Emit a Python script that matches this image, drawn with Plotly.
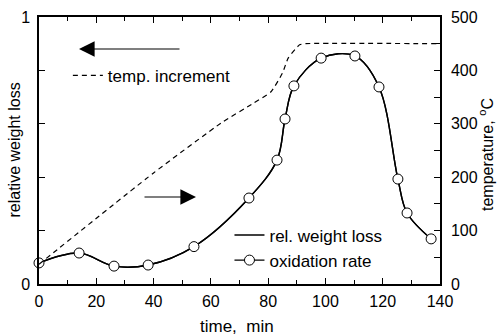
import plotly.graph_objects as go

# ---- data ----
time_ox = [0, 14, 26.2, 38.1, 54.1, 73.3, 83.1, 85.9, 89.0, 98.5, 110.3, 118.7, 125.3, 128.5, 136.9]
rate_ox = [0.079, 0.116, 0.067, 0.071, 0.140, 0.322, 0.464, 0.618, 0.742, 0.846, 0.854, 0.738, 0.393, 0.266, 0.169]

time_T = [0, 40, 64, 75, 81, 85, 87, 91, 93, 140]
temp_T = [37, 208, 303, 339, 360, 395, 423, 448, 450, 450]

x_ticks = [0, 20, 40, 60, 80, 100, 120, 140]
y_left_ticks = [0, 0.2, 0.4, 0.6, 0.8, 1.0]
y_left_text = ["0", "", "", "", "", "1"]

FONT = "Liberation Sans, Arial, sans-serif"
FS = 16
FL = 17

fig = go.Figure()

fig.add_trace(go.Scatter(
    x=time_T, y=temp_T, yaxis="y2", mode="lines", name="temp. increment",
    line=dict(color="black", width=1.2, dash="5px,4px", shape="spline", smoothing=0.5),
    legend="legend",
))
fig.add_trace(go.Scatter(
    x=time_ox, y=rate_ox, mode="lines", name="rel. weight loss",
    line=dict(color="black", width=1.4, shape="spline", smoothing=1.0),
    legend="legend2", cliponaxis=False,
))
fig.add_trace(go.Scatter(
    x=time_ox, y=rate_ox, mode="lines+markers", name="oxidation rate",
    line=dict(color="black", width=1.4, shape="spline", smoothing=1.0),
    marker=dict(symbol="circle", size=10, color="white", line=dict(color="black", width=1)),
    legend="legend2", cliponaxis=False,
))

axis_common = dict(showline=True, linecolor="black", linewidth=1.5, showgrid=False,
                   zeroline=False, ticks="inside", tickcolor="black", tickwidth=1.2,
                   tickfont=dict(family=FONT, size=FS, color="black"))

fig.update_layout(
    width=497, height=336,
    margin=dict(l=39, r=57, t=17, b=52, autoexpand=False),
    paper_bgcolor="white", plot_bgcolor="white",
    font=dict(family=FONT, size=FS, color="black"),
    xaxis=dict(range=[0, 140], tickvals=x_ticks, ticklen=6, mirror="ticks",
               minor=dict(dtick=10, ticks="inside", ticklen=4, tickcolor="black"),
               ticklabelstandoff=2, **axis_common),
    yaxis=dict(range=[0, 1], tickvals=y_left_ticks, ticktext=y_left_text, ticklen=6,
               mirror=True, ticklabelstandoff=4, **axis_common),
    yaxis2=dict(range=[0, 500], overlaying="y", side="right", dtick=100, ticklen=6,
                minor=dict(dtick=50, ticks="inside", ticklen=6, tickcolor="black"),
                ticklabelstandoff=6, **axis_common),
    legend=dict(x=0.072, y=0.78, xanchor="left", yanchor="middle", bgcolor="rgba(0,0,0,0)",
                font=dict(family=FONT, size=FL), itemwidth=30, tracegroupgap=0),
    legend2=dict(x=0.475, y=0.135, xanchor="left", yanchor="middle", bgcolor="rgba(0,0,0,0)",
                 font=dict(family=FONT, size=FL), itemwidth=30, tracegroupgap=0),
    showlegend=True,
)

fig.add_annotation(text="relative weight loss", xref="paper", yref="paper",
                   x=(14 - 39) / 401, y=0.5, textangle=-90, showarrow=False,
                   xanchor="center", yanchor="middle", font=dict(family=FONT, size=FS))
fig.add_annotation(text="temperature, <sup>o</sup>C", xref="paper", yref="paper",
                   x=(486 - 39) / 401, y=(284 - 155) / 267, textangle=-90, showarrow=False,
                   xanchor="center", yanchor="middle", font=dict(family=FONT, size=FS))
fig.add_annotation(text="time,  min", xref="paper", yref="paper",
                   x=0.495, y=(284 - 326) / 267, showarrow=False,
                   xanchor="center", yanchor="middle", font=dict(family=FONT, size=FL))

# direction arrows
fig.add_annotation(text="", xref="paper", yref="paper",
                   x=(79 - 39) / 401, y=(284 - 49) / 267, ax=102, ay=0,
                   showarrow=True, arrowhead=2, arrowsize=2.6, arrowwidth=1.2, arrowcolor="black")
fig.add_annotation(text="", xref="paper", yref="paper",
                   x=(196 - 39) / 401, y=(284 - 197) / 267, ax=-53, ay=0,
                   showarrow=True, arrowhead=2, arrowsize=2.6, arrowwidth=1.2, arrowcolor="black")

fig.write_html("out.html")
